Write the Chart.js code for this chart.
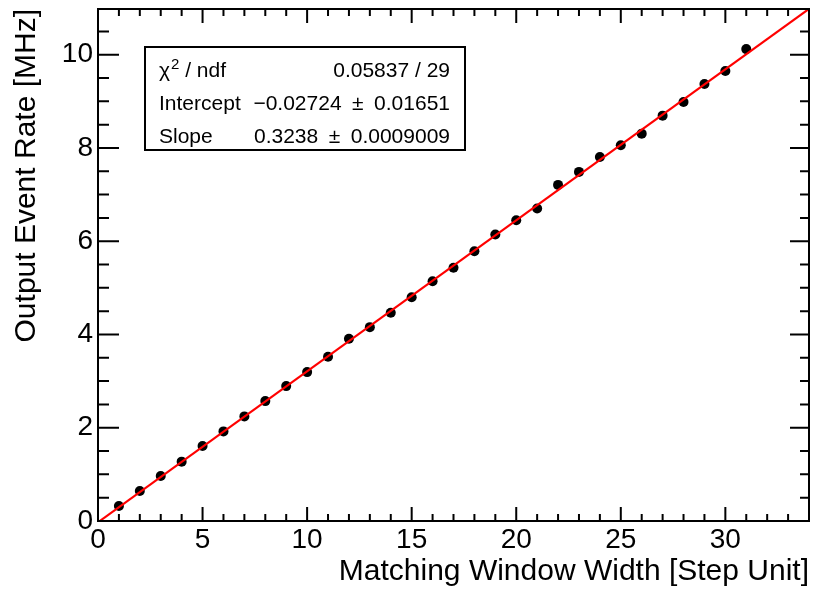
<!DOCTYPE html>
<html>
<head>
<meta charset="utf-8">
<title>Output Event Rate vs Matching Window Width</title>
<script src="https://cdn.jsdelivr.net/npm/chart.js@4/dist/chart.umd.min.js"></script>
<style>
  html, body { margin: 0; padding: 0; background: #ffffff; }
  canvas { display: block; }
</style>
</head>
<body>
<canvas id="rateChart" width="814" height="589"></canvas>
<script>
// Measured points: matching window width (step units) vs output event rate (MHz)
const windowWidth = [1, 2, 3, 4, 5, 6, 7, 8, 9, 10, 11, 12, 13, 14, 15, 16,
                     17, 18, 19, 20, 21, 22, 23, 24, 25, 26, 27, 28, 29, 30, 31];
const eventRate = [0.321, 0.643, 0.964, 1.273, 1.607, 1.922, 2.243, 2.571, 2.893, 3.193,
                   3.523, 3.908, 4.157, 4.465, 4.800, 5.143, 5.430, 5.785, 6.143, 6.450,
                   6.700, 7.208, 7.487, 7.808, 8.057, 8.307, 8.693, 8.986, 9.372, 9.651, 10.120];

// Linear fit result (pol1)
const fitChi2 = 0.05837;
const fitNdf = 29;
const fitIntercept = -0.02724;
const fitInterceptErr = 0.01651;
const fitSlope = 0.3238;
const fitSlopeErr = 0.0009009;

// Axis ranges and labelled ticks
const xRange = [0, 34];
const yRange = [0, 10.98];
const xTickValues = [0, 5, 10, 15, 20, 25, 30];
const yTickValues = [0, 2, 4, 6, 8, 10];
const xMinorStep = 1, xMajorEvery = 5;
const yMinorStep = 0.5, yMajorEvery = 2;

const FONT = '"Liberation Sans", Arial, Helvetica, sans-serif';

const points = windowWidth.map((w, i) => ({ x: w, y: eventRate[i] }));
const fitLine = xRange.map(x => ({ x: x, y: fitIntercept + fitSlope * x }));

// Frame with inward ticks on all four sides
const frameAndTicks = {
  id: 'frameAndTicks',
  afterDraw(chart) {
    const { ctx, chartArea: a, scales: { x, y } } = chart;
    ctx.save();
    ctx.strokeStyle = '#000';
    ctx.lineWidth = 2;
    ctx.beginPath();
    for (let v = xRange[0]; v <= xRange[1] + 1e-9; v += xMinorStep) {
      const px = x.getPixelForValue(v);
      const len = (Math.round(v) % xMajorEvery === 0) ? 14 : 7;
      ctx.moveTo(px, a.bottom); ctx.lineTo(px, a.bottom - len);
      ctx.moveTo(px, a.top); ctx.lineTo(px, a.top + len);
    }
    for (let v = yRange[0]; v <= yRange[1] + 1e-9; v += yMinorStep) {
      const py = y.getPixelForValue(v);
      const major = Math.abs(v / yMajorEvery - Math.round(v / yMajorEvery)) < 1e-6;
      ctx.moveTo(a.left, py); ctx.lineTo(a.left + (major ? 21 : 11), py);
      ctx.moveTo(a.right, py); ctx.lineTo(a.right - (major ? 19 : 9), py);
    }
    ctx.stroke();
    ctx.strokeRect(a.left, a.top, a.right - a.left, a.bottom - a.top);
    ctx.restore();
  }
};

// Fit statistics box
const fitStatsBox = {
  id: 'fitStatsBox',
  afterDraw(chart) {
    const ctx = chart.ctx;
    const box = { l: 145, t: 47, r: 465, b: 150 };
    const xl = 159, xr = 450;
    const rows = [77, 110, 143];
    const pm = '\u2002\u00b1\u2002';
    ctx.save();
    ctx.fillStyle = '#fff';
    ctx.fillRect(box.l, box.t, box.r - box.l, box.b - box.t);
    ctx.strokeStyle = '#000';
    ctx.lineWidth = 2;
    ctx.strokeRect(box.l, box.t, box.r - box.l, box.b - box.t);

    ctx.fillStyle = '#000';
    ctx.textBaseline = 'alphabetic';
    const size = 21;
    ctx.font = size + 'px ' + FONT;

    // row 1: chi2 / ndf
    ctx.textAlign = 'left';
    ctx.fillText('χ', xl, rows[0]);
    let cx = xl + ctx.measureText('χ').width + 1;
    ctx.font = '15px ' + FONT;
    ctx.fillText('2', cx, rows[0] - 8);
    cx += ctx.measureText('2').width;
    ctx.font = size + 'px ' + FONT;
    ctx.fillText(' / ndf', cx, rows[0]);
    ctx.textAlign = 'right';
    ctx.fillText(fitChi2 + ' / ' + fitNdf, xr, rows[0]);

    // row 2: intercept
    ctx.textAlign = 'left';
    ctx.fillText('Intercept', xl, rows[1]);
    ctx.textAlign = 'right';
    const ic = (fitIntercept < 0 ? '\u2212' : '') + Math.abs(fitIntercept);
    ctx.fillText(ic + pm + fitInterceptErr, xr, rows[1]);

    // row 3: slope
    ctx.textAlign = 'left';
    ctx.fillText('Slope', xl, rows[2]);
    ctx.textAlign = 'right';
    ctx.fillText(fitSlope + pm + fitSlopeErr, xr, rows[2]);
    ctx.restore();
  }
};

new Chart(document.getElementById('rateChart'), {
  type: 'scatter',
  data: {
    datasets: [
      {
        type: 'line',
        label: 'pol1 fit',
        data: fitLine,
        borderColor: '#ff0000',
        borderWidth: 2.2,
        pointRadius: 0,
        fill: false,
        clip: 0,
        order: 0
      },
      {
        type: 'scatter',
        label: 'data',
        data: points,
        backgroundColor: '#000',
        borderColor: '#000',
        borderWidth: 0,
        pointRadius: 5,
        order: 1
      }
    ]
  },
  options: {
    responsive: false,
    animation: false,
    devicePixelRatio: 1,
    layout: { padding: { left: 0, right: 4, top: 9, bottom: 0 } },
    plugins: { legend: { display: false }, tooltip: { enabled: false } },
    scales: {
      x: {
        type: 'linear',
        min: xRange[0],
        max: xRange[1],
        afterBuildTicks: s => { s.ticks = xTickValues.map(v => ({ value: v })); },
        afterFit: s => { s.height = 68; s.paddingLeft = 0; s.paddingRight = 0; },
        grid: { display: false, drawTicks: false },
        border: { display: false },
        ticks: {
          autoSkip: false, maxRotation: 0, padding: 2, color: '#000',
          font: { family: FONT, size: 28 }
        },
        title: {
          display: true, text: 'Matching Window Width [Step Unit]', align: 'end',
          color: '#000', font: { family: FONT, size: 30, lineHeight: 1.2 },
          padding: { top: 0, bottom: -1 }
        }
      },
      y: {
        type: 'linear',
        min: yRange[0],
        max: yRange[1],
        afterBuildTicks: s => { s.ticks = yTickValues.map(v => ({ value: v })); },
        afterFit: s => { s.width = 98; s.paddingTop = 0; s.paddingBottom = 0; },
        grid: { display: false, drawTicks: false },
        border: { display: false },
        ticks: {
          autoSkip: false, padding: 5, color: '#000',
          font: { family: FONT, size: 28 }
        },
        title: {
          display: true, text: 'Output Event Rate [MHz]', align: 'end',
          color: '#000', font: { family: FONT, size: 30, lineHeight: 1.2 },
          padding: { top: 9, bottom: 0 }
        }
      }
    }
  },
  plugins: [frameAndTicks, fitStatsBox]
});
</script>
</body>
</html>
